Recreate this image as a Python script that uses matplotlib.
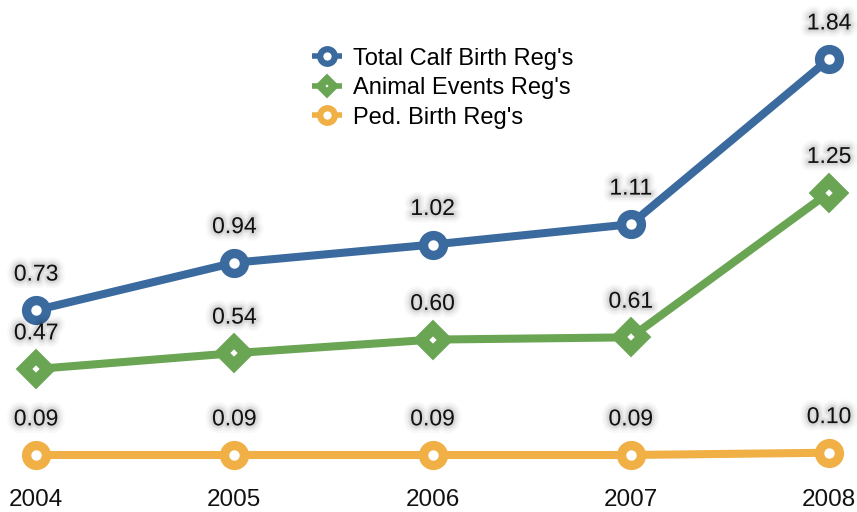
import matplotlib
matplotlib.use('Agg')
import matplotlib.pyplot as plt
import matplotlib.patheffects as pe

years = [2004, 2005, 2006, 2007, 2008]
calf_birth = [0.73, 0.94, 1.02, 1.11, 1.84]
animal_events = [0.47, 0.54, 0.60, 0.61, 1.25]
ped_birth = [0.09, 0.09, 0.09, 0.09, 0.10]

series = [
    ("Total Calf Birth Reg's", calf_birth, '#3b6a9f', 'o'),
    ("Animal Events Reg's", animal_events, '#6aa553', 'D'),
    ("Ped. Birth Reg's", ped_birth, '#f0b046', 'o'),
]

plt.rcParams['font.family'] = ['Liberation Sans', 'DejaVu Sans']

fig = plt.figure(figsize=(8.57, 5.12), dpi=100)
ax = fig.add_axes([0, 0, 1, 1])
ax.set_xlim(2003.818, 2008.141)
ax.set_ylim(-0.162, 2.101)
ax.axis('off')

# soft glow behind the value labels
glow = [pe.Stroke(linewidth=w, foreground='black', alpha=a)
        for w, a in [(11, 0.025), (8, 0.035), (5, 0.045), (3, 0.05)]]
glow.append(pe.Normal())

for name, vals, color, mk in series:
    if mk == 'o':
        ms, mew = 14.25, 6.75
    else:
        ms, mew = 12, 8.5
    ax.plot(years, vals, color=color, lw=5.8, marker=mk, ms=ms,
            mfc='white', mec=color, mew=mew, label=name,
            solid_capstyle='butt', zorder=3)
    for x, v in zip(years, vals):
        ax.annotate(f'{v:.2f}', (x, v), xytext=(0, 26), textcoords='offset points',
                    ha='center', va='center', fontsize=16.5, color='#111111',
                    path_effects=glow, zorder=5)

for x in years:
    ax.text(x, -0.109, str(x), ha='center', va='center', fontsize=17.5, color='#111111')

leg = ax.legend(loc='upper left', bbox_to_anchor=(0.35, 0.93), frameon=False,
                fontsize=17, borderpad=0, handlelength=1.3, handletextpad=0.45,
                labelspacing=0.32)
for h in leg.legend_handles:
    h.set_linewidth(4)
    if h.get_marker() == 'o':
        h.set_markersize(10.5)
        h.set_markeredgewidth(4.5)
    else:
        h.set_markersize(7.5)
        h.set_markeredgewidth(5.5)

fig.savefig('out.png', dpi=100)
